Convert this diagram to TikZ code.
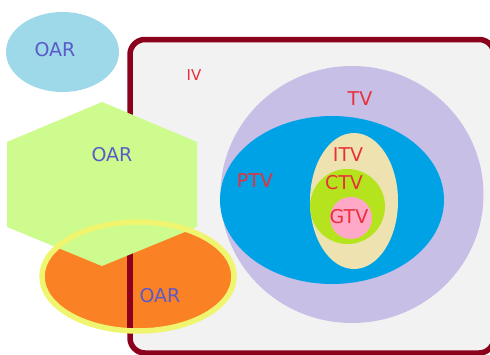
\documentclass[tikz,border=0pt]{standalone}
\usepackage{fontspec}
\setmainfont{DejaVu Sans}
\usetikzlibrary{shapes.geometric}
\definecolor{oarblue}{RGB}{157,217,232}
\definecolor{hexgreen}{RGB}{205,251,142}
\definecolor{oarorange}{RGB}{250,130,37}
\definecolor{ringyellow}{RGB}{240,245,112}
\definecolor{boxfill}{RGB}{242,242,242}
\definecolor{boxedge}{RGB}{139,0,26}
\definecolor{tvlav}{RGB}{200,191,230}
\definecolor{ptvblue}{RGB}{0,162,230}
\definecolor{itvbeige}{RGB}{238,227,176}
\definecolor{ctvgreen}{RGB}{181,227,29}
\definecolor{gtvpink}{RGB}{255,168,200}
\definecolor{redtext}{RGB}{232,48,58}
\definecolor{oartext}{RGB}{90,90,200}
\tikzset{
  vol/.style={ellipse, inner sep=0pt, draw=none},
  redlbl/.style={text=redtext, font=\fontsize{19}{19}\selectfont, inner sep=0pt},
  oarlbl/.style={text=oartext, font=\fontsize{19}{19}\selectfont, inner sep=0pt},
}
\begin{document}
\begin{tikzpicture}[x=1pt,y=-1pt]
\useasboundingbox (0,0) rectangle (490,354);
\begin{scope}
\clip (0,0) rectangle (490,354);
% irradiated volume box
\draw[boxedge, line width=5.5pt, fill=boxfill, rounded corners=15pt]
  (130,39.5) rectangle (494,353);
\coordinate (boxtop) at (130,250);
\coordinate (boxbot) at (130,332);
% nested target volumes
\node[vol, fill=tvlav, minimum width=263pt, minimum height=257pt] (tv) at (352,194.5) {};
\node[vol, fill=ptvblue, minimum width=224pt, minimum height=168pt] (ptv) at (332,200) {};
\node[vol, fill=itvbeige, minimum width=88pt, minimum height=136pt] (itv) at (354,201) {};
\node[circle, inner sep=0pt, fill=ctvgreen, minimum size=75pt] (ctv) at (347.5,206.5) {};
\node[circle, inner sep=0pt, fill=gtvpink, minimum size=42pt] (gtv) at (351,218) {};
% organs at risk
\node[vol, fill=oarblue, minimum width=113pt, minimum height=80pt] (oar1) at (62.5,52) {};
\node[vol, fill=oarorange, minimum width=192pt, minimum height=109pt] (oar3) at (138,276.5) {};
\draw[boxedge, line width=5.5pt] (boxtop) -- (boxbot);
\fill[hexgreen] (102,102) -- (197,142) -- (197,227) -- (102,266) -- (7,227) -- (7,142) -- cycle;
\draw[ringyellow, line width=5.5pt] (oar3.center) ellipse [x radius=96pt, y radius=54.5pt];
\end{scope}
% labels
\node[oarlbl] (l1) at (55,50) {OAR};
\node[oarlbl] (l2) at (112,155) {OAR};
\node[oarlbl] (l3) at (160,296) {OAR};
\node[redlbl, font=\fontsize{15}{15}\selectfont] (liv) at (194,75) {IV};
\node[redlbl] (ltv) at (360,99) {TV};
\node[redlbl] (lptv) at (255,181) {PTV};
\node[redlbl] (litv) at (348,155) {ITV};
\node[redlbl] (lctv) at (344,183) {CTV};
\node[redlbl] (lgtv) at (349,217) {GTV};
\end{tikzpicture}
\end{document}
